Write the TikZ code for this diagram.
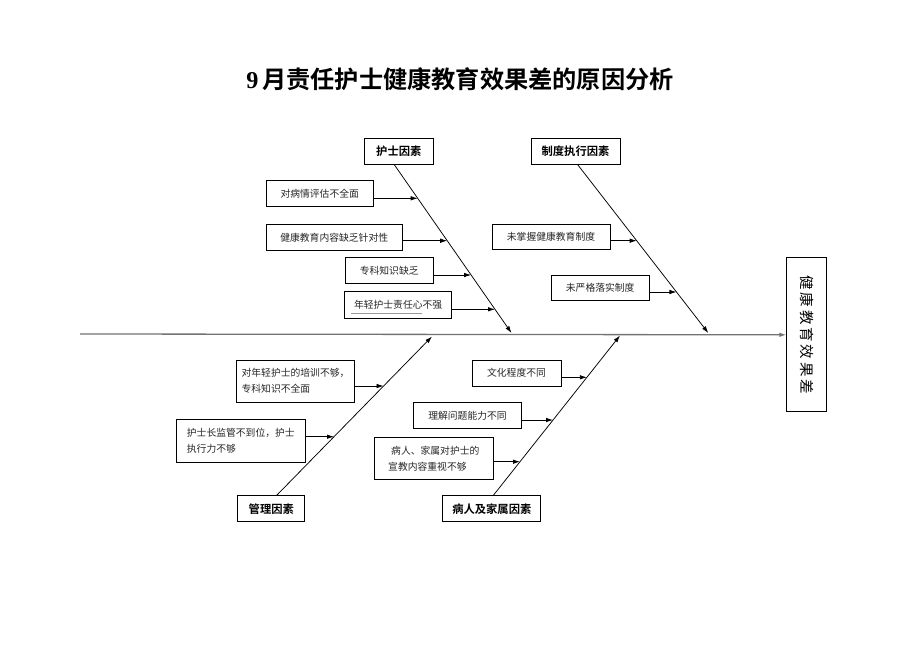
\documentclass[tikz,border=0pt]{standalone}
\usepackage{fontspec}
\setmainfont{Noto Sans CJK SC}[BoldFont={Noto Sans CJK SC Bold}]
\newfontfamily\latinserif{Liberation Serif}
\usetikzlibrary{arrows.meta,intersections}
\newcommand\twig[3]{%
  \path[name path=tw] ([yshift=#2]#1.east) -- ++(140,0);
  \draw[arr, name intersections={of=tw and #3}] ([yshift=#2]#1.east) -- (intersection-1);}
\begin{document}
\begin{tikzpicture}[x=1pt,y=-1pt,
  box/.style={draw=black, line width=0.8pt, minimum height=26pt, inner sep=0pt,
    font=\fontsize{9.8}{16}\selectfont, text=black!85},
  head/.style={box, font=\bfseries\fontsize{11.3}{13}\selectfont, text=black},
  tip/.style={-{Latex[length=7pt,width=4.5pt]}},
  bone/.style={line width=0.75pt, tip},
  arr/.style={line width=0.75pt, tip},
  spine/.style={line width=1.3pt, draw=black!55, tip}]
\fill[white] (0,0) rectangle (920,651);
\useasboundingbox (0,0) rectangle (920,651);

% title
\node[font=\bfseries\fontsize{24.2}{28}\selectfont] (title) at (460,79)
  {{\latinserif\bfseries 9}\hspace{4pt}月责任护士健康教育效果差的原因分析};

% effect box
\node[draw=black, line width=0.8pt, rotate=-90, minimum width=154pt, minimum height=40pt,
  inner sep=0pt, font=\fontsize{14.5}{16}\selectfont] (eff) at (806.8,334.8)
  {健\hspace{2.8pt}康\hspace{2.8pt}教\hspace{2.8pt}育\hspace{2.8pt}效\hspace{2.8pt}果\hspace{2.8pt}差};

% category heads
\node[head, minimum width=69pt] (h1) at (398.8,151.3) {护士因素};
\node[head, minimum width=89pt] (h2) at (575.5,151.3) {制度执行因素};
\node[head, minimum width=67pt] (h3) at (271.3,508.7) {管理因素};
\node[head, minimum width=98pt] (h4) at (491.8,508.8) {病人及家属因素};

% spine
\coordinate (sp0) at (80,334);
\draw[spine] (sp0) -- (eff.south);

% bones
\coordinate (nE) at (511.5,333);
\coordinate (rE) at (708.3,333);
\coordinate (mE) at (432,336.5);
\coordinate (pE) at (620,335.5);
\draw[bone, name path=bN] ([xshift=-4.5pt]h1.south) -- (nE);
\draw[bone, name path=bR] ([xshift=2.2pt]h2.south) -- (rE);
\draw[bone, name path=bM] ([xshift=5.4pt]h3.north) -- (mE);
\draw[bone, name path=bP] ([xshift=1.5pt]h4.north) -- (pE);

% nurse causes
\node[box, minimum width=107pt] (t1) at (319.7,193.7) {对病情评估不全面};
\node[box, minimum width=136.5pt, minimum height=25.5pt] (t2) at (334.2,237.3) {健康教育内容缺乏针对性};
\node[box, minimum width=88.5pt] (t3) at (389.2,270.5) {专科知识缺乏};
\node[box, minimum width=107pt, minimum height=26.6pt] (t4) at (398.1,305) {年轻护士责任心不强};
\draw[black!40, line width=0.6pt] ([xshift=7.2pt,yshift=5.6pt]t4.south west) -- ++(71,0);
\twig{t1}{-4.6pt}{bN}
\twig{t2}{-3.4pt}{bN}
\twig{t3}{-4.5pt}{bN}
\twig{t4}{-4.3pt}{bN}

% system causes
\node[box, minimum width=118pt, minimum height=25.3pt] (r1) at (551,236.7) {未掌握健康教育制度};
\node[box, minimum width=98pt, minimum height=25.7pt] (r2) at (600.2,287.8) {未严格落实制度};
\twig{r1}{-4pt}{bR}
\twig{r2}{-4.2pt}{bR}

% management causes
\node[box, minimum width=117.6pt, minimum height=42.3pt, align=left] (m1) at (295.5,381.2)
  {对年轻护士的培训不够，\\专科知识不全面};
\node[box, minimum width=128.3pt, minimum height=42.7pt, align=left] (m2) at (240.8,440.7)
  {护士长监管不到位，护士\\执行力不够};
\twig{m1}{-4.8pt}{bM}
\twig{m2}{4pt}{bM}

% patient causes
\node[box, minimum width=89pt] (p1) at (516.5,373) {文化程度不同};
\node[box, minimum width=108.4pt, minimum height=25.6pt] (p2) at (467.5,415.5) {理解问题能力不同};
\node[box, minimum width=119pt, minimum height=42pt, align=left] (p3) at (433.8,458.3)
  {\hspace{3pt}病人、家属对护士的\\宣教内容重视不够};
\twig{p1}{-4.3pt}{bP}
\twig{p2}{-4.5pt}{bP}
\twig{p3}{-3.4pt}{bP}
\end{tikzpicture}
\end{document}
